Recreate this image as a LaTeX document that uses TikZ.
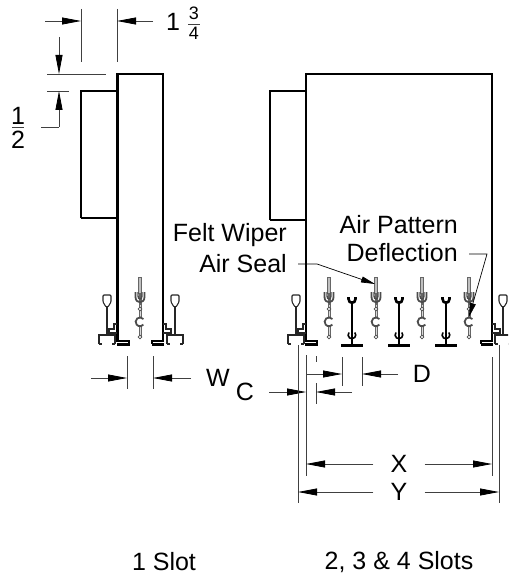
\documentclass[tikz,border=0pt]{standalone}
\usepackage{fontspec}
\setmainfont{Liberation Sans}
\usetikzlibrary{arrows.meta}
\tikzset{
  wall/.style={line width=2.4pt,color=black},
  part/.style={line width=1.1pt,color=black!85},
  dimline/.style={line width=0.8pt,color=black!75},
  dimarrow/.style={dimline,-{Triangle[length=19pt,width=7pt,color=black]}},
  leader/.style={line width=0.7pt,color=black,-{Triangle[length=14pt,width=6pt]}},
  label/.style={inner sep=0pt,font=\fontsize{25}{25}\selectfont},
  smalllabel/.style={inner sep=0pt,font=\fontsize{18}{18}\selectfont},
  wiper/.pic={
    \draw[line width=0.9pt,color=black!60,fill=black!25] (-1.8,0) rectangle (1.8,16);
    \draw[line width=3pt,color=black!60] (0,16) -- (0,60);
    \draw[line width=0.7pt,color=black!15] (0,28) -- (0,60);
    \draw[line width=1.8pt,color=black!70] (-4.5,15) -- (-4.5,20) .. controls (-4.5,27) and (4.5,27) .. (4.5,20) -- (4.5,15);
    \draw[line width=1.4pt,color=black!70] (-2,15) -- (-2,19) .. controls (-2,23) and (2,23) .. (2,19) -- (2,15);
    \draw[line width=1.8pt,color=black!70,fill=white] (3.4,42) arc (-40:-320:4.4);
    \filldraw[color=black!70,fill=white,line width=0.7pt] (0,32) circle (1.8pt);
    \filldraw[color=black!70,fill=white,line width=0.7pt] (0,60) circle (1.8pt);
  },
  tblade/.pic={
    \draw[line width=2.6pt,color=black] (0,0) -- (0,44);
    \draw[line width=2.6pt,color=black] (-3.5,-4) -- (-3.5,-2) .. controls (-3.5,3) and (3.5,3) .. (3.5,-2) -- (3.5,-4);
    \draw[line width=1.6pt,color=black] (-3,31.5) arc (220:-40:3.8);
    \draw[line width=3pt,color=black] (-11,44) -- (11,44);
  },
  holder/.pic={
    \draw[part,line join=round,rounded corners=1pt] (-4,-40) -- (4,-40) -- (4,-33) -- (1,-28) -- (-1,-28) -- (-4,-33) -- cycle;
    \draw[part] (0,-28) -- (0,0);
    \draw[part] (-8,9) -- (-8,0) -- (8,0) -- (8,9);
    \draw[part] (-8,9) -- (-5,9);
    \draw[part] (8,9) -- (5,9);
  },
  footpart/.pic={
    \draw[line width=1.6pt,color=black] (0,0) -- (12,0) -- (12,3);
    \draw[line width=3.6pt,color=black] (0,3.5) -- (12.5,3.5);
  },
}
\begin{document}
\begin{tikzpicture}[x=1pt,y=-1pt]
\useasboundingbox (0,0) rectangle (508,577);

\def\top{74}
\def\low{342}

% housings
\draw[wall] (117.5,\low) -- (117.5,\top) -- (163,\top) -- (163,\low);
\draw[wall] (81,218) -- (81,91) -- (117.5,91);
\draw[wall] (81,218) -- (117.5,218);
\draw[wall] (306,\low) -- (306,\top) -- (492,\top) -- (492,\low);
\draw[wall] (270,220) -- (270,91) -- (306,91);
\draw[wall] (270,220) -- (306,220);

% feet
\pic at (117,341) {footpart};
\pic[xscale=-1] at (164,341) {footpart};
\pic at (305,341) {footpart};
\pic[xscale=-1] at (493,341) {footpart};

% steps
\draw[part] (117,324) -- (114,324) -- (114,329) -- (109,329) -- (109,333) -- (117,333);
\draw[part] (163,324) -- (166,324) -- (166,329) -- (171,329) -- (171,333) -- (163,333);
\draw[part] (306,324) -- (303,324) -- (303,329) -- (298,329) -- (298,333) -- (306,333);
\draw[part] (492,324) -- (495,324) -- (495,329) -- (500,329) -- (500,333) -- (492,333);

% holders
\pic at (107,335) {holder};
\pic at (175,335) {holder};
\pic at (296,335) {holder};
\begin{scope}
\clip (480,280) rectangle (508,360);
\pic at (503,335) {holder};
\end{scope}

% blades
\foreach \bx in {140,329,376,422,469}
  \pic at (\bx,277) {wiper};
\foreach \bx in {352,399,446}
  \pic at (\bx,301) {tblade};

% top dimension
\coordinate (a1) at (81,9);
\coordinate (a2) at (81,62);
\coordinate (a3) at (117,9);
\coordinate (a4) at (117,62);
\coordinate (a5) at (45,21);
\coordinate (a6) at (81,21);
\coordinate (a7) at (153,21);
\coordinate (a8) at (117,21);
\draw[dimline] (a1) -- (a2);
\draw[dimline] (a3) -- (a4);
\draw[dimarrow] (a5) -- (a6);
\draw[dimarrow] (a7) -- (a8);
\node[label] (one) at (173,21.5) {1};
\node[smalllabel] (three) at (194,13.5) {3};
\node[smalllabel] (four) at (194,33) {4};
\draw[dimline] (188,24) -- (200,24);

% side dimension
\coordinate (b1) at (47,74);
\coordinate (b2) at (106,74);
\coordinate (b3) at (47,91);
\coordinate (b4) at (69,91);
\coordinate (b5) at (59,37);
\coordinate (b6) at (59,74);
\coordinate (b7) at (59,127);
\coordinate (b8) at (59,91);
\coordinate (b9) at (41,127);
\draw[dimline] (b1) -- (b2);
\draw[dimline] (b3) -- (b4);
\draw[dimarrow] (b5) -- (b6);
\draw[dimline] (b9) -- (b7);
\draw[dimarrow] (b7) -- (b8);
\node[label] (half1) at (18,116) {1};
\node[label] (half2) at (18,140) {2};
\draw[dimline] (12,127.5) -- (24,127.5);

% W
\coordinate (w1) at (127,356);
\coordinate (w2) at (127,389);
\coordinate (w3) at (153,356);
\coordinate (w4) at (153,389);
\coordinate (w5) at (91,378);
\coordinate (w6) at (127,378);
\coordinate (w7) at (191,378);
\coordinate (w8) at (153,378);
\draw[dimline] (w1) -- (w2);
\draw[dimline] (w3) -- (w4);
\draw[dimarrow] (w5) -- (w6);
\draw[dimarrow] (w7) -- (w8);
\node[label] (lblw) at (218,378) {W};
\node[label] (lblc) at (245,392) {C};

% D and C
\coordinate (d1) at (342,357);
\coordinate (d2) at (342,386);
\coordinate (d3) at (362,357);
\coordinate (d4) at (362,386);
\coordinate (d5) at (306,374);
\coordinate (d6) at (342,374);
\coordinate (d7) at (398,374);
\coordinate (d8) at (362,374);
\draw[dimline] (d1) -- (d2);
\draw[dimline] (d3) -- (d4);
\draw[dimarrow] (d5) -- (d6);
\draw[dimarrow] (d7) -- (d8);
\node[label] (lbld) at (422,374) {D};
\coordinate (c1) at (316,383);
\coordinate (c2) at (316,404);
\coordinate (c3) at (269,392);
\coordinate (c4) at (306,392);
\coordinate (c5) at (352,392);
\coordinate (c6) at (316,392);
\draw[dimline] (316,356) -- (316,362);
\draw[dimline] (c1) -- (c2);
\draw[dimarrow] (c3) -- (c4);
\draw[dimarrow] (c5) -- (c6);

% X and Y
\coordinate (x1) at (306,355);
\coordinate (x2) at (306,476);
\coordinate (x3) at (492,357);
\coordinate (x4) at (492,476);
\coordinate (y1) at (298,345);
\coordinate (y2) at (298,503);
\coordinate (y3) at (499,345);
\coordinate (y4) at (499,503);
\draw[dimline] (x1) -- (x2);
\draw[dimline] (x3) -- (x4);
\draw[dimline] (y1) -- (y2);
\draw[dimline] (y3) -- (y4);
\node[label] (lblx) at (399,464) {X};
\node[label] (lbly) at (399,492) {Y};
\draw[dimarrow] ([xshift=-17pt]lblx.west) -- (x2 |- lblx);
\draw[dimarrow] ([xshift=17pt]lblx.east) -- (x4 |- lblx);
\draw[dimarrow] ([xshift=-17pt]lbly.west) -- (y2 |- lbly);
\draw[dimarrow] ([xshift=17pt]lbly.east) -- (y4 |- lbly);

% leaders
\node[label,anchor=east] (felt) at (287,235) {Felt Wiper};
\node[label,anchor=east] (seal) at (287,264) {Air Seal};
\node[label,anchor=east] (pattern) at (458,225) {Air Pattern};
\node[label,anchor=east] (deflect) at (458,253) {Deflection};
\coordinate (s0) at (298,264);
\coordinate (s1) at (317,264);
\coordinate (s2) at (375,284);
\coordinate (f0) at (469,254);
\coordinate (f1) at (487,254);
\coordinate (f2) at (469,317);
\draw[leader] (s0) -- (s1) -- (s2);
\draw[leader] (f0) -- (f1) -- (f2);

\node[label] (slot1) at (164,562) {1 Slot};
\node[label] (slot2) at (399,562) {2, 3 \& 4 Slots};
\end{tikzpicture}
\end{document}
